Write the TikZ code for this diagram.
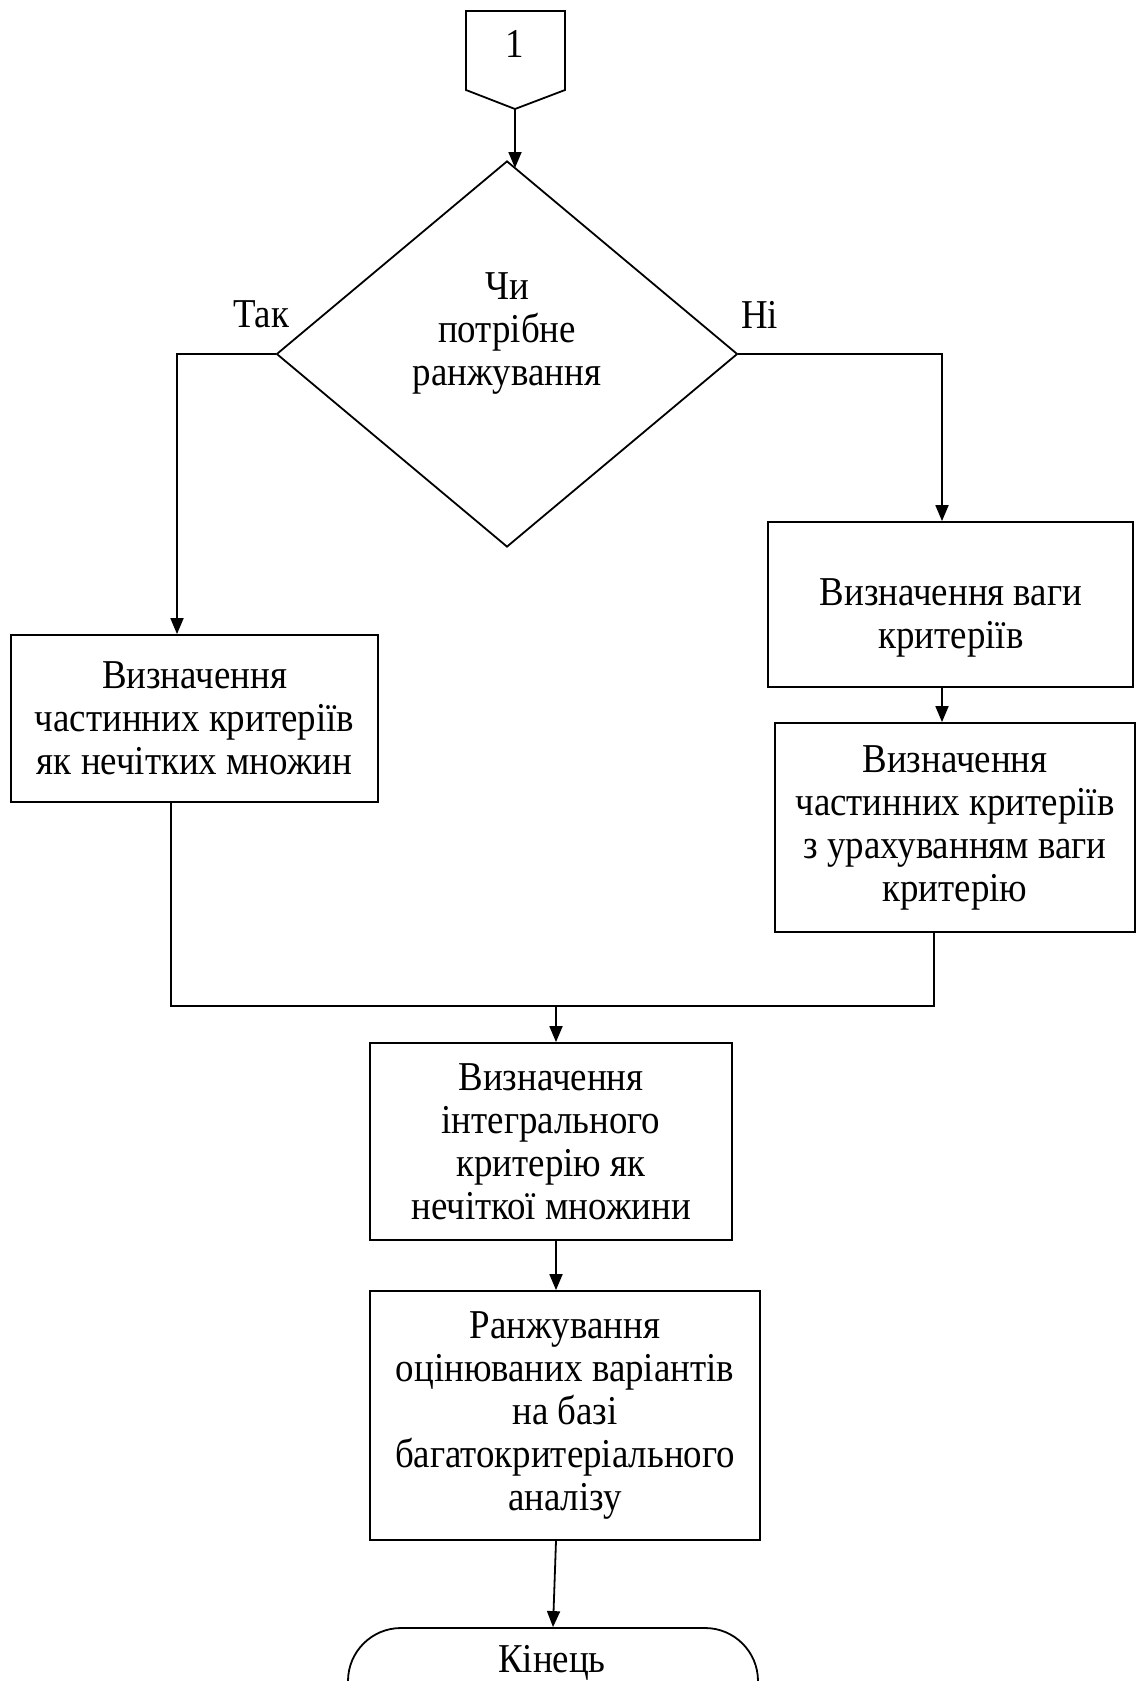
\documentclass[tikz,border=0pt]{standalone}
\usepackage{fontspec}
\setmainfont{Liberation Serif}[FakeStretch=0.9]
\usetikzlibrary{shapes.geometric,shapes.misc,arrows.meta,calc}
\begin{document}
\begin{tikzpicture}[x=1pt,y=-1pt,
  every node/.style={font=\fontsize{41}{43}\selectfont,align=center},
  box/.style={draw,line width=1.8pt,rectangle,inner sep=0pt},
  ln/.style={line width=1.8pt},
  arr/.style={line width=1.8pt,-{Triangle[length=16pt,width=13pt]}},
]
\useasboundingbox (0,0) rectangle (1137,1681);
% off-page connector
\draw[ln] (466,11) -- (565,11) -- (565,90) -- (515,109) -- (466,90) -- cycle;
\node[anchor=base] (one) at (515,57) {1};
\coordinate (ctip) at (515,109);
% decision
\node[diamond,draw,ln,minimum width=461,minimum height=386,inner sep=0pt] (q) at (507,354) {};
\node (qt) at (507,333) {Чи\\потрібне\\ранжування};
\node[anchor=base] (tak) at (261,327) {Так};
\node[anchor=base] (ni) at (759.5,328) {Ні};
% boxes
\node[box,minimum width=367,minimum height=167] (l1) at (194.5,718.5) {Визначення\\частинних критеріїв\\як нечітких множин};
\node[box,minimum width=365,minimum height=165] (r1) at (950.5,604.5) {};
\node (r1t) at (951,618) {Визначення ваги\\критеріїв};
\node[box,minimum width=360,minimum height=209] (r2) at (955,827.5) {Визначення\\частинних критеріїв\\з урахуванням ваги\\критерію};
\node[box,minimum width=362,minimum height=197] (c1) at (551,1141.5) {Визначення\\інтегрального\\критерію як\\нечіткої множини};
\node[box,minimum width=390,minimum height=249] (c2) at (565,1415.5) {Ранжування\\оцінюваних варіантів\\на базі\\багатокритеріального\\аналізу};
\node[rounded rectangle,draw,ln,minimum width=410,minimum height=106,inner sep=0pt] (e) at (553,1681) {};
\node[anchor=base] (et) at (552,1672) {Кінець};
% connectors
\coordinate (qtop) at (515,168);
\draw[arr] (ctip) -- (qtop);
\coordinate (tk) at (177,354);
\draw[arr] (q.west) -- (tk) -- (tk |- l1.north);
\coordinate (nk) at (942,354);
\draw[arr] (q.east) -- (nk) -- (nk |- r1.north);
\draw[arr] (nk |- r1.south) -- (nk |- r2.north);
\coordinate (ml) at (171,1006);
\coordinate (mr) at (934,1006);
\draw[line width=2.4pt] (ml |- l1.south) -- (ml) -- (mr) -- (mr |- r2.south);
\coordinate (mm) at (556,1006);
\draw[arr] (mm) -- (mm |- c1.north);
\draw[arr] (c1.south -| mm) -- (c2.north -| mm);
\draw[arr] (c2.south -| mm) -- (e.north);
\end{tikzpicture}
\end{document}
